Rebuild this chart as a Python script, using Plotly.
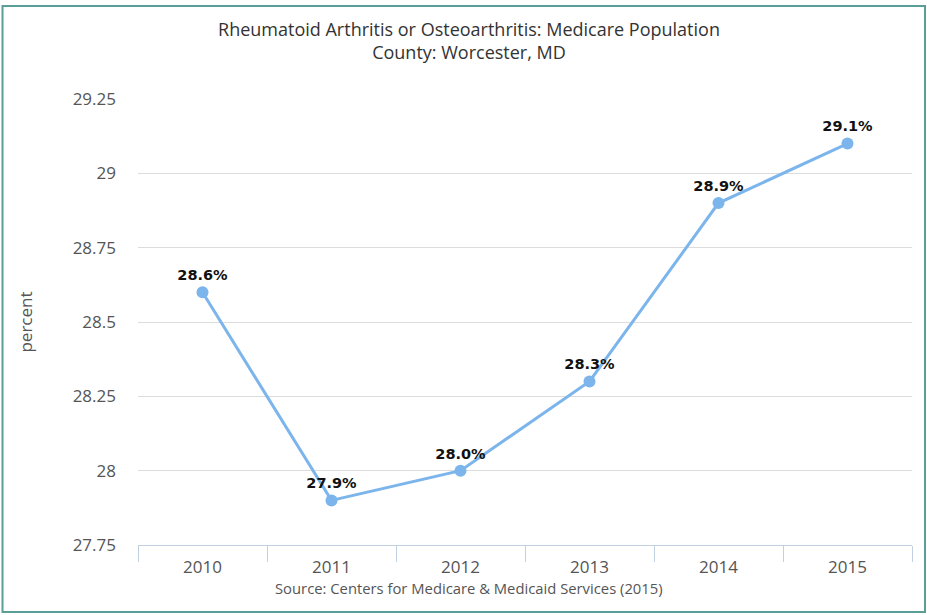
import plotly.graph_objects as go

years = ["2010", "2011", "2012", "2013", "2014", "2015"]
values = [28.6, 27.9, 28.0, 28.3, 28.9, 29.1]
labels = ["28.6%", "27.9%", "28.0%", "28.3%", "28.9%", "29.1%"]
y_ticks = [27.75, 28, 28.25, 28.5, 28.75, 29, 29.25]
y_tick_text = ["27.75", "28", "28.25", "28.5", "28.75", "29", "29.25"]

W, H = 927, 615
ML, MR, MT, MB = 138, 15, 99, 70
pw, ph = W - ML - MR, H - MT - MB

def px(x):
    return (x - ML) / pw

def py(y):
    return (H - MB - y) / ph

FONT = "Open Sans, Liberation Sans, Arial, sans-serif"

fig = go.Figure()
fig.add_trace(go.Scatter(
    x=years, y=values, mode="lines+markers+text",
    text=labels, textposition="top center",
    textfont=dict(family="DejaVu Sans, sans-serif", size=14.5, color="#111111", weight="bold"),
    line=dict(color="#7CB5EC", width=3),
    marker=dict(color="#7CB5EC", size=12),
    cliponaxis=False, hoverinfo="skip", showlegend=False,
))

fig.update_layout(
    width=W, height=H,
    margin=dict(l=ML, r=MR, t=MT, b=MB),
    paper_bgcolor="white", plot_bgcolor="white",
    font=dict(family=FONT, color="#555555"),
    title=dict(
        text="Rheumatoid Arthritis or Osteoarthritis: Medicare Population<br>County: Worcester, MD",
        x=px(469), xref="paper", xanchor="center", y=1 - 35.5 / H, yanchor="middle",
        font=dict(family=FONT, size=18, color="#333333"),
    ),
    xaxis=dict(
        type="category", range=[-0.5, len(years) - 0.5],
        showgrid=False, showline=True, linecolor="#C0D0E0", linewidth=1,
        ticks="outside", tickson="boundaries", ticklen=16, tickcolor="#C0D0E0",
        tickfont=dict(size=17, color="#555555"), ticklabelstandoff=7, zeroline=False,
    ),
    yaxis=dict(
        range=[27.75, 29.25], tickvals=y_ticks, ticktext=y_tick_text,
        showgrid=True, gridcolor="#DCDCDC", gridwidth=1, zeroline=False,
        tickfont=dict(size=17, color="#555555"), ticklabelstandoff=21,
        title=dict(text="percent", font=dict(size=17, color="#555555"), standoff=35),
    ),
    shapes=[dict(
        type="rect", xref="paper", yref="paper",
        x0=px(2.5), x1=px(925), y0=py(612), y1=py(6),
        line=dict(color="#5A9E98", width=2), fillcolor="rgba(0,0,0,0)", layer="below",
    )],
    annotations=[dict(
        text="Source: Centers for Medicare &amp; Medicaid Services (2015)",
        xref="paper", yref="paper", x=px(469), y=py(588), xanchor="center", yanchor="middle",
        showarrow=False, font=dict(family=FONT, size=14.8, color="#555555"),
    )],
)

fig.write_html("out.html", config={"displayModeBar": False},
               post_script="document.body.style.margin='0';")
